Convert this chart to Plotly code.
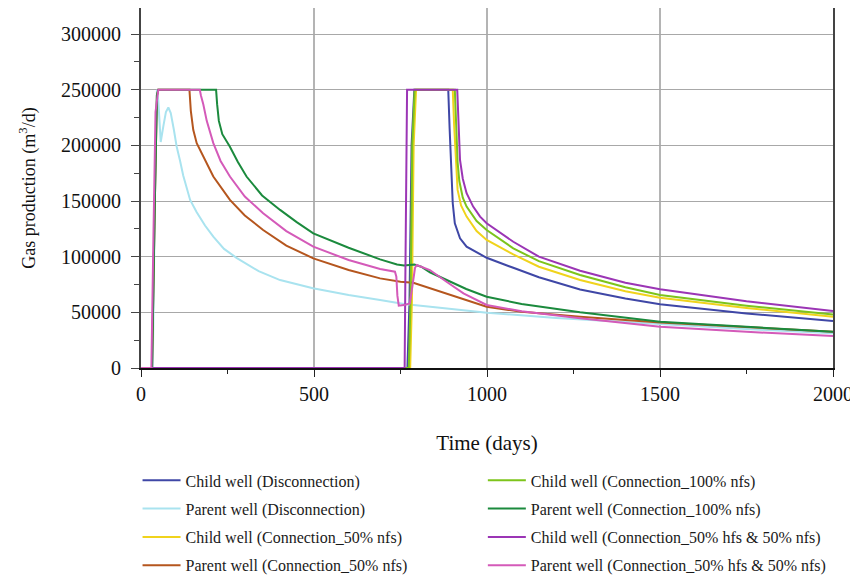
import plotly.graph_objects as go

# ---------------- data ----------------
names = [
    "Child well (Disconnection)",
    "Parent well (Disconnection)",
    "Child well (Connection_50% nfs)",
    "Parent well (Connection_50% nfs)",
    "Child well (Connection_100% nfs)",
    "Parent well (Connection_100% nfs)",
    "Child well (Connection_50% hfs & 50% nfs)",
    "Parent well (Connection_50% hfs & 50% nfs)",
]
colors = ["#3f47a6", "#a9e3ef", "#f0d31c", "#b5561e",
          "#7dc41b", "#1b8a3d", "#9b35b5", "#d45ab9"]

child_disc_t = [0, 770, 776, 782, 790, 888, 892, 895, 901, 907, 922, 941, 970, 999, 1076, 1150, 1269, 1400, 1500, 1750, 2000]
child_disc_v = [0, 0, 60000, 200000, 250000, 250000, 215000, 186000, 148000, 130000, 116500, 109000, 104000, 99000, 90000, 81500, 70500, 62500, 57200, 49000, 42200]

parent_disc_t = [0, 34, 40, 46, 50, 57, 65, 72, 79, 86, 95, 103, 113, 122, 142, 161, 185, 209, 240, 276, 340, 402, 497, 600, 691, 760, 850, 1000, 1200, 1500, 1750, 2000]
parent_disc_v = [0, 0, 150000, 250000, 240000, 203000, 218000, 230000, 234000, 229000, 214000, 199000, 186000, 173000, 151000, 140000, 128000, 118000, 107000, 99000, 87000, 79000, 71600, 65500, 61000, 57500, 54500, 49600, 45000, 39300, 35000, 31200]

child_50_t = [0, 778, 783, 788, 795, 901, 905, 910, 915, 925, 941, 970, 999, 1076, 1150, 1269, 1400, 1500, 1750, 2000]
child_50_v = [0, 0, 60000, 200000, 250000, 250000, 218000, 182000, 160000, 146000, 136000, 123000, 115000, 102000, 91000, 79000, 69000, 63200, 54000, 46100]

parent_50_t = [0, 32, 40, 46, 50, 140, 144, 151, 161, 185, 209, 257, 300, 353, 420, 498, 600, 691, 750, 787, 830, 883, 940, 999, 1100, 1269, 1500, 1750, 2000]
parent_50_v = [0, 0, 150000, 245000, 250000, 250000, 231000, 214000, 202000, 187000, 172000, 151000, 137000, 124000, 110000, 98500, 88000, 80500, 77500, 76500, 72000, 67000, 61000, 55000, 50500, 46000, 40800, 36500, 32600]

child_100_t = [0, 774, 779, 784, 791, 907, 911, 915, 920, 930, 941, 970, 999, 1076, 1150, 1269, 1400, 1500, 1750, 2000]
child_100_v = [0, 0, 60000, 200000, 250000, 250000, 218000, 185000, 168000, 153000, 145000, 132000, 124000, 107500, 96000, 83500, 72500, 65600, 56000, 48100]

parent_100_t = [0, 32, 40, 46, 50, 217, 220, 225, 235, 257, 280, 305, 350, 402, 450, 498, 600, 691, 740, 760, 790, 810, 835, 883, 940, 999, 1100, 1269, 1500, 1750, 2000]
parent_100_v = [0, 0, 150000, 245000, 250000, 250000, 237000, 222000, 210000, 198800, 185000, 172000, 155000, 142000, 131000, 121000, 108000, 97600, 93000, 92000, 93000, 91000, 86000, 79000, 71000, 64000, 57500, 50000, 41600, 37000, 32600]

child_hfs_t = [0, 762, 764, 766, 769, 914, 918, 922, 930, 941, 960, 980, 999, 1076, 1150, 1269, 1400, 1500, 1750, 2000]
child_hfs_v = [0, 0, 80000, 200000, 250000, 250000, 215000, 187000, 170000, 157000, 145000, 136000, 130000, 113400, 100000, 87400, 76500, 70700, 60000, 51200]

parent_hfs_t = [0, 30, 36, 42, 50, 170, 173, 180, 190, 209, 230, 257, 300, 353, 420, 498, 600, 691, 734, 738, 741, 745, 760, 777, 785, 792, 797, 810, 835, 883, 932, 999, 1100, 1269, 1500, 1750, 2000]
parent_hfs_v = [0, 0, 120000, 230000, 250000, 250000, 245000, 237000, 222000, 202000, 186000, 172000, 154000, 139000, 123000, 109000, 97000, 89000, 86500, 82000, 65000, 56000, 56500, 58000, 75000, 90000, 92500, 91000, 88000, 77500, 67000, 56600, 51000, 44600, 37100, 32500, 28700]

series_t = [child_disc_t, parent_disc_t, child_50_t, parent_50_t,
            child_100_t, parent_100_t, child_hfs_t, parent_hfs_t]
series_v = [child_disc_v, parent_disc_v, child_50_v, parent_50_v,
            child_100_v, parent_100_v, child_hfs_v, parent_hfs_v]

x_ticks = [0, 500, 1000, 1500, 2000]
y_ticks = [0, 50000, 100000, 150000, 200000, 250000, 300000]

# ---------------- figure ----------------
FONT = "Liberation Serif"
fig = go.Figure()
for i, (n, c, t, v) in enumerate(zip(names, colors, series_t, series_v)):
    fig.add_trace(go.Scatter(
        x=t, y=v, name=n, mode="lines",
        line=dict(color=c, width=2),
        legend="legend" if i < 4 else "legend2",
        legendgroup="g%d" % i,
    ))

leg_common = dict(
    orientation="v", yanchor="top", xanchor="left",
    font=dict(family=FONT, size=16, color="#1a1a1a"),
    bgcolor="rgba(0,0,0,0)", tracegroupgap=4.5, itemwidth=38,
)
# page has an 8px body margin, so the figure is 850x572
fig.update_layout(
    width=850, height=572,
    margin=dict(l=133, r=25, t=0, b=212, autoexpand=False),
    plot_bgcolor="white", paper_bgcolor="white",
    font=dict(family=FONT, size=20, color="#111"),
    showlegend=True,
    legend=dict(x=-0.0050, y=-0.265, **leg_common),
    legend2=dict(x=0.4940, y=-0.265, **leg_common),
)
fig.update_xaxes(
    range=[0, 2000], tickvals=x_ticks, ticks="outside", ticklen=7,
    tickcolor="#222", tickwidth=1.3, automargin=False,
    minor=dict(dtick=250, ticks="outside", ticklen=4, tickcolor="#222", showgrid=False),
    showgrid=True, gridcolor="#b4b4b4", gridwidth=1.6,
    showline=True, linecolor="#111", linewidth=1.5, mirror=True,
    zeroline=False,
    title=dict(text="Time (days)", standoff=32, font=dict(size=21)),
    tickfont=dict(size=20),
)
fig.update_yaxes(
    range=[0, 323400], tickvals=y_ticks, tickformat="d", ticks="outside", ticklen=8,
    tickcolor="#444", tickwidth=1.3, automargin=False, ticklabelstandoff=6,
    minor=dict(dtick=25000, ticks="outside", ticklen=5, tickcolor="#444", showgrid=False),
    showgrid=True, gridcolor="#a8a8a8", gridwidth=1.4,
    showline=True, linecolor="#444", linewidth=2, mirror=True,
    zeroline=False,
    title=dict(text="Gas production (m<sup>3</sup>/d)", standoff=21, font=dict(size=18)),
    tickfont=dict(size=20),
)

fig.write_html("out.html")
